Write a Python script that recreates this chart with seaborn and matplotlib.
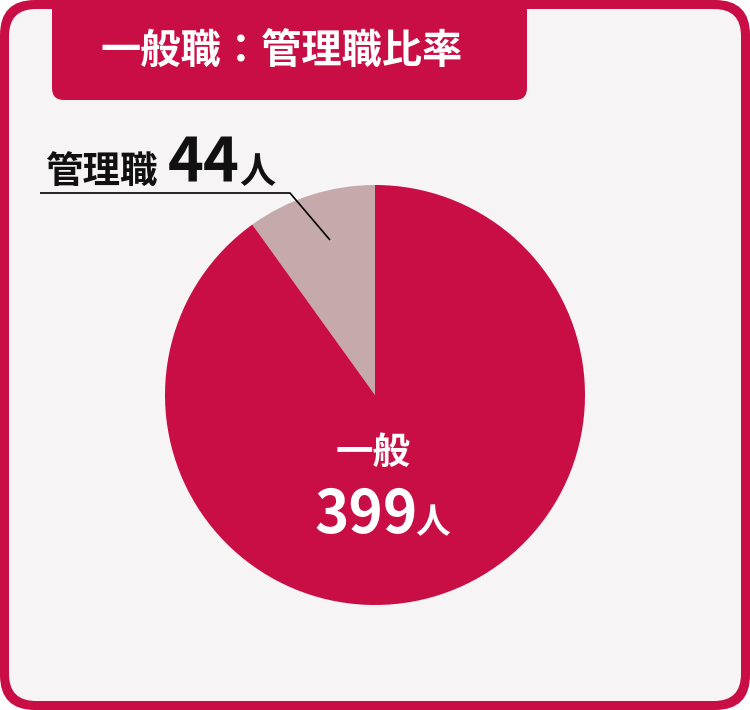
import matplotlib
matplotlib.use("Agg")
import matplotlib.pyplot as plt
from matplotlib.patches import FancyBboxPatch
import seaborn as sns

# ---- data ----
categories = ["管理職", "一般"]
counts = [44, 399]
unit = "人"
title = "一般職：管理職比率"
colors = ["#c6a9aa", "#c80e45"]

sns.set_theme(style="white")
plt.rcParams['font.family'] = ['Noto Sans CJK JP', 'DejaVu Sans']

W, H = 750, 710
CRIMSON = "#c80e45"
BG = "#f6f4f5"

fig = plt.figure(figsize=(W / 100, H / 100), dpi=100)
fig.patch.set_facecolor("white")

bg = fig.add_axes([0, 0, 1, 1])
bg.set_xlim(0, W)
bg.set_ylim(H, 0)
bg.axis("off")

# outer frame
bg.add_patch(FancyBboxPatch((35, 35), W - 70, H - 70,
                            boxstyle="round,pad=35", fc=CRIMSON, ec="none"))
bg.add_patch(FancyBboxPatch((36, 36), W - 72, H - 72,
                            boxstyle="round,pad=27", fc=BG, ec="none"))
# title tab
bg.add_patch(FancyBboxPatch((64, -40), 451, 128,
                            boxstyle="round,pad=12", fc=CRIMSON, ec="none"))
bg.text(282, 52, title, color="white", fontsize=29, fontweight="bold",
        ha="center", va="center")

# pie axes
cx, cy, r = 375, 395, 210
pax = fig.add_axes([(cx - r) / W, (H - cy - r) / H, 2 * r / W, 2 * r / H])
pax.pie(counts, colors=colors, startangle=90, counterclock=True,
        wedgeprops=dict(linewidth=0))
pax.set_xlim(-1, 1)
pax.set_ylim(-1, 1)
pax.set_aspect("equal")
pax.axis("off")

# overlay for labels
ov = fig.add_axes([0, 0, 1, 1])
ov.set_xlim(0, W)
ov.set_ylim(H, 0)
ov.axis("off")
ov.patch.set_alpha(0)

# leader line for small slice
ov.plot([330, 290, 40], [240, 193, 193], color="black", lw=1.2, solid_capstyle="butt")

ov.text(45, 183, categories[0], fontsize=27, fontweight="bold", color="#111111",
        ha="left", va="baseline")
ov.text(168, 183, str(counts[0]), fontsize=44, fontweight="bold", color="#111111",
        ha="left", va="baseline")
ov.text(239, 183, unit, fontsize=26, fontweight="bold", color="#111111",
        ha="left", va="baseline")

ov.text(373, 452, categories[1], fontsize=27, fontweight="bold", color="white",
        ha="center", va="center")
ov.text(314, 533, str(counts[1]), fontsize=42, fontweight="bold", color="white",
        ha="left", va="baseline")
ov.text(415, 533, unit, fontsize=25, fontweight="bold", color="white",
        ha="left", va="baseline")

fig.savefig("out.png", dpi=100, facecolor="white")
